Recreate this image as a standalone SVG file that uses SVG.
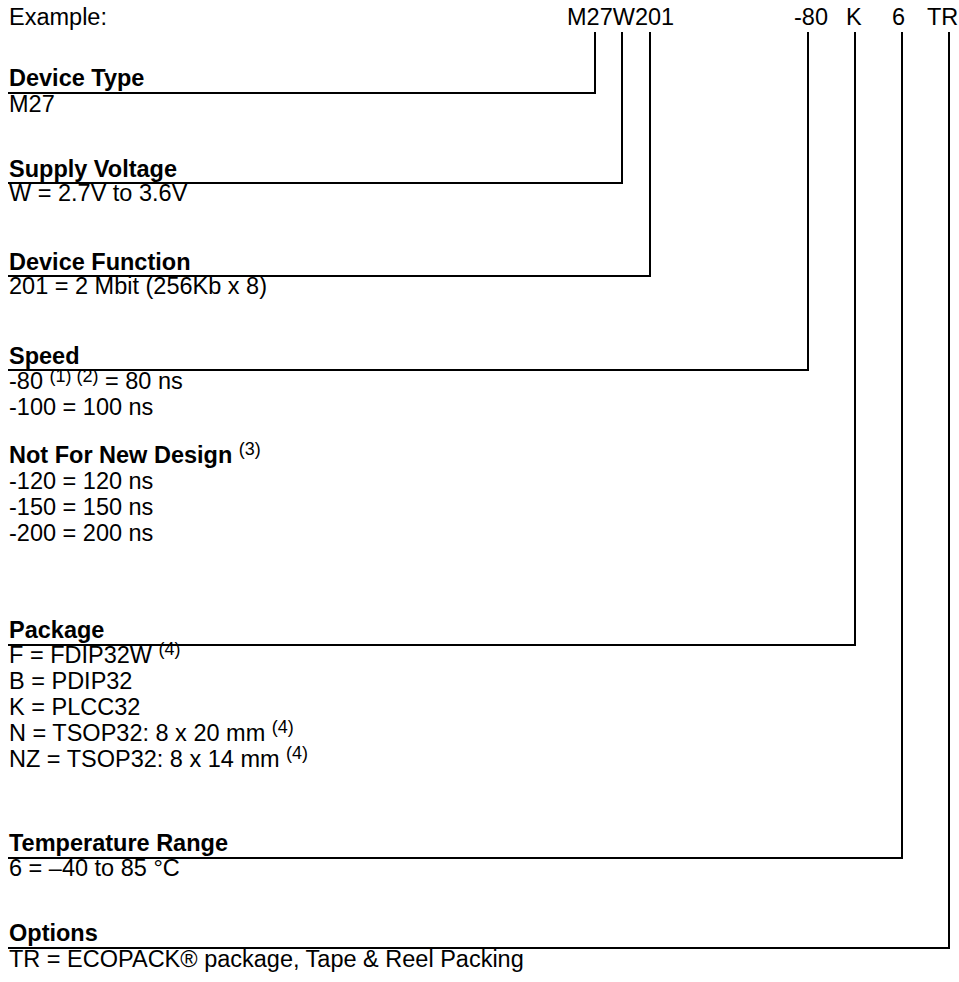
<svg xmlns="http://www.w3.org/2000/svg" width="959" height="982" viewBox="0 0 959 982">
<style>
text{font-family:"Liberation Sans",Arial,sans-serif;font-size:23.5px;fill:#000}
.h{font-weight:bold}
.s{font-size:18px;font-weight:normal}
.c{fill:none;stroke:#000;stroke-width:2}
</style>
<rect width="959" height="982" fill="#fff"/>
<g id="example">
<text x="9" y="25">Example:</text>
<text x="567" y="25">M27W201</text>
<text x="794" y="25">-80</text>
<text x="846" y="25">K</text>
<text x="892" y="25">6</text>
<text x="927" y="25">TR</text>
</g>
<g id="connectors">
<path class="c" d="M8 93H595V32"/>
<path class="c" d="M8 183H622V32"/>
<path class="c" d="M8 276H650V32"/>
<path class="c" d="M8 370H808V32"/>
<path class="c" d="M8 645H855V32"/>
<path class="c" d="M8 858H902V32"/>
<path class="c" d="M8 948H949V32"/>
</g>
<g id="device-type">
<text class="h" x="9" y="86">Device Type</text>
<text x="9" y="112">M27</text>
</g>
<g id="supply-voltage">
<text class="h" x="9" y="177">Supply Voltage</text>
<text x="9" y="201">W = 2.7V to 3.6V</text>
</g>
<g id="device-function">
<text class="h" x="9" y="270">Device Function</text>
<text x="9" y="294">201 = 2 Mbit (256Kb x 8)</text>
</g>
<g id="speed">
<text class="h" x="9" y="364">Speed</text>
<text x="9" y="389">-80 <tspan class="s" dy="-7">(1) (2)</tspan><tspan dy="7"> = 80 ns</tspan></text>
<text x="9" y="415">-100 = 100 ns</text>
<text class="h" x="9" y="463">Not For New Design <tspan class="s" dy="-8">(3)</tspan></text>
<text x="9" y="489">-120 = 120 ns</text>
<text x="9" y="515">-150 = 150 ns</text>
<text x="9" y="541">-200 = 200 ns</text>
</g>
<g id="package">
<text class="h" x="9" y="638">Package</text>
<text x="9" y="663">F = FDIP32W <tspan class="s" dy="-8">(4)</tspan></text>
<text x="9" y="689">B = PDIP32</text>
<text x="9" y="715">K = PLCC32</text>
<text x="9" y="741">N = TSOP32: 8 x 20 mm <tspan class="s" dy="-8">(4)</tspan></text>
<text x="9" y="767">NZ = TSOP32: 8 x 14 mm <tspan class="s" dy="-8">(4)</tspan></text>
</g>
<g id="temperature">
<text class="h" x="9" y="851">Temperature Range</text>
<text x="9" y="876">6 = –40 to 85 °C</text>
</g>
<g id="options">
<text class="h" x="9" y="941">Options</text>
<text x="9" y="967">TR = ECOPACK® package, Tape &amp; Reel Packing</text>
</g>
</svg>
